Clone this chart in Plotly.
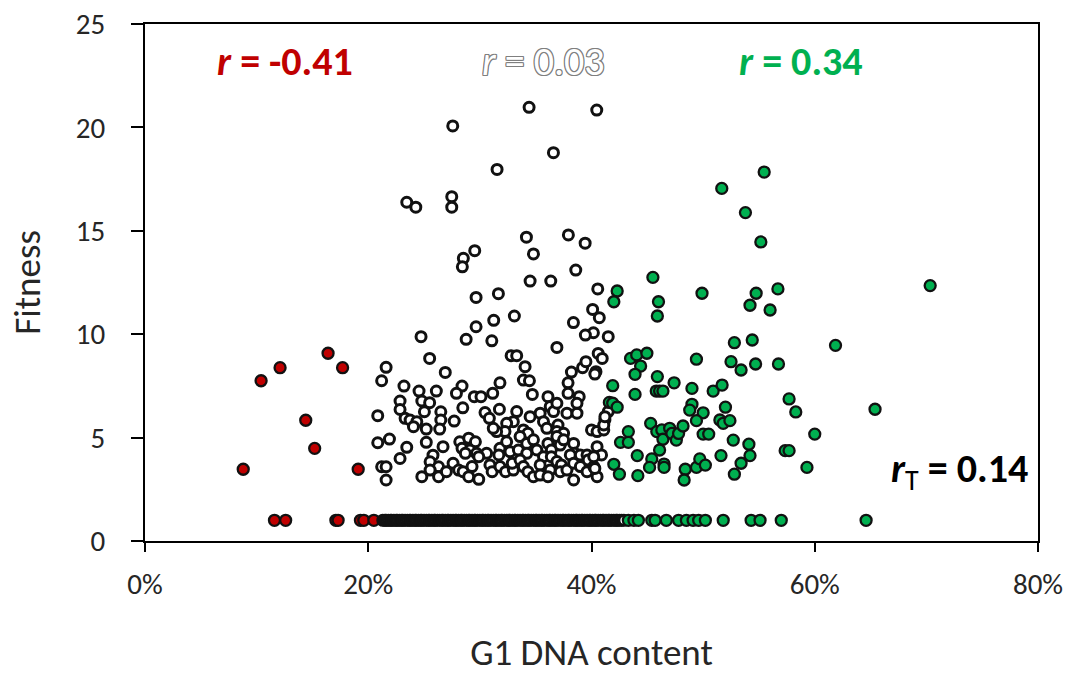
import plotly.graph_objects as go

# G1 DNA content (%) and fitness for the low-G1 group (red)
red_g1 = [8.8, 10.4, 12.1, 14.4, 15.2, 16.4, 17.7, 19.1,
          11.6, 12.6, 17.1, 17.3, 19.3, 19.6, 20.5]
red_fit = [3.47, 7.75, 8.38, 5.84, 4.48, 9.08, 8.38, 3.47,
           1, 1, 1, 1, 1, 1, 1]

# Mid-G1 group (open circles), fitness above baseline
mid_g1 = [
    34.41, 40.47, 27.57, 36.59, 31.54, 23.45, 24.26, 27.48, 27.48, 34.17,
    37.93, 39.43, 34.80, 29.54, 28.52, 28.43, 38.59, 34.50, 36.35, 40.56,
    29.66, 31.66, 33.09, 31.24, 29.66, 38.38, 40.10, 40.70, 41.50,
    24.73, 28.77, 31.07, 25.50, 32.80, 33.30, 36.90, 40.60, 40.96, 26.90,
    34.05, 33.90, 34.44, 39.20, 39.50, 40.40, 40.30, 38.20, 37.90, 31.80,
    23.20, 24.55, 26.10, 28.40, 27.90, 29.50, 30.10, 31.15, 34.70, 36.10,
    37.90, 38.90, 40.17, 39.45,
    21.60, 21.20, 20.85, 20.85, 21.20,
    22.85, 22.85, 24.80, 25.50, 23.30, 23.75, 24.35, 24.05, 25.03, 26.50,
    26.50, 26.40, 27.70, 28.47, 25.20, 21.90, 23.45, 22.85, 21.60, 21.60,
    25.20, 26.70, 25.80, 25.54, 26.30, 25.54, 26.30, 24.80,
    30.46, 30.85, 31.75, 33.30, 33.00, 32.40, 32.25, 34.50, 35.40, 35.70,
    36.30, 36.60, 36.90, 37.80, 38.70, 38.70, 40.00, 40.50, 41.10, 41.20,
    41.50, 41.10, 31.50, 31.20, 33.90, 34.30, 33.60, 36.00, 37.00, 36.90,
    37.50, 28.20, 29.00, 29.60, 28.40, 29.10, 28.70, 29.70, 30.60, 29.90,
    31.80, 32.40, 32.70, 31.70, 33.45, 34.20, 34.80, 35.10, 34.20, 36.10,
    36.40, 36.90, 37.20, 37.50, 38.40, 38.50, 38.10, 39.00, 39.60, 39.70,
    40.50, 40.90, 35.70, 36.40, 27.60, 27.00, 28.10, 28.50, 29.00, 29.90,
    29.30, 30.90, 31.10, 31.80, 32.30, 33.00, 32.90, 33.60, 33.90, 34.30,
    34.80, 35.40, 35.40, 36.30, 36.10, 36.90, 37.30, 37.20, 37.80, 38.40,
    38.40, 39.00, 39.60, 40.20, 40.50,
    41.20, 40.20, 40.30,
]
mid_fit = [
    20.97, 20.84, 20.07, 18.78, 17.97, 16.38, 16.14, 16.65, 16.14, 14.69,
    14.80, 14.40, 13.88, 14.04, 13.67, 13.26, 13.10, 12.57, 12.57, 12.19,
    11.78, 11.96, 10.88, 10.67, 10.36, 10.56, 11.20, 10.80, 9.88,
    9.88, 9.75, 9.68, 8.83, 8.96, 8.96, 9.36, 9.07, 8.83, 8.15,
    8.43, 7.78, 7.75, 8.38, 8.67, 8.19, 8.07, 8.17, 7.65, 7.65,
    7.49, 7.25, 7.25, 7.49, 7.14, 6.98, 6.98, 7.14, 7.09, 6.98,
    7.14, 6.98, 10.07, 9.96,
    8.40, 7.75, 6.06, 4.75, 3.59,
    6.77, 6.36, 6.77, 6.69, 5.93, 5.85, 5.77, 5.53, 6.25, 6.25,
    5.85, 5.41, 5.80, 6.44, 5.41, 4.93, 4.53, 3.99, 3.59, 2.95,
    4.77, 4.56, 4.15, 3.83, 3.59, 3.43, 3.11, 3.11,
    6.21, 5.93, 6.37, 6.26, 5.77, 5.69, 5.29, 6.01, 6.18, 5.77,
    6.50, 6.26, 6.66, 6.18, 6.18, 6.66, 5.37, 5.29, 5.37, 5.85,
    6.26, 5.61, 5.29, 5.45, 5.37, 5.21, 5.05, 5.45, 5.61, 5.29,
    5.21, 4.80, 4.97, 4.80, 4.48, 4.40, 4.24, 4.24, 4.24, 4.08,
    4.48, 4.80, 4.32, 4.16, 4.40, 4.72, 4.89, 4.40, 4.24, 4.72,
    4.40, 5.05, 4.64, 4.89, 4.72, 4.24, 4.16, 4.16, 4.16, 3.92,
    4.56, 4.16, 4.08, 4.08, 3.76, 3.35, 3.43, 3.35, 3.11, 2.98,
    3.60, 3.68, 3.35, 3.60, 3.35, 3.43, 3.76, 3.92, 3.60, 3.35,
    3.11, 3.68, 3.19, 3.43, 3.11, 3.84, 3.68, 3.35, 3.43, 2.95,
    3.76, 3.60, 3.35, 3.60, 3.11,
    6.01, 4.08, 3.51,
]

# Mid-G1 group at baseline fitness (fitness = 1)
mid_g1_base = [
    21.3, 21.5, 21.6, 21.8, 22.0, 22.1, 22.3, 22.5, 22.6, 22.8, 23.0, 23.1,
    23.3, 23.5, 23.7, 23.8, 24.0, 24.2, 24.3, 24.5, 24.7, 24.8, 25.0, 25.2,
    25.4, 25.5, 25.7, 25.9, 26.0, 26.2, 26.4, 26.6, 26.7, 26.9, 27.1, 27.2,
    27.4, 27.6, 27.8, 27.9, 28.1, 28.3, 28.4, 28.6, 28.8, 29.0, 29.1, 29.3,
    29.5, 29.6, 29.8, 30.0, 30.2, 30.3, 30.5, 30.7, 30.8, 31.0, 31.2, 31.4,
    31.5, 31.7, 31.9, 32.0, 32.2, 32.4, 32.6, 32.7, 32.9, 33.1, 33.2, 33.4,
    33.6, 33.8, 33.9, 34.1, 34.3, 34.4, 34.6, 34.8, 35.0, 35.1, 35.3, 35.5,
    35.6, 35.8, 36.0, 36.2, 36.3, 36.5, 36.7, 36.8, 37.0, 37.2, 37.4, 37.5,
    37.7, 37.9, 38.0, 38.2, 38.4, 38.6, 38.7, 38.9, 39.1, 39.2, 39.4, 39.6,
    39.8, 39.9, 40.1, 40.3, 40.4, 40.6, 40.8, 41.0, 41.1, 41.3, 41.5, 41.6,
    41.8, 42.0, 42.2, 42.3, 42.5, 42.7, 42.9,
]
mid_fit_base = [1] * len(mid_g1_base)

# High-G1 group (green)
high_g1 = [
    55.47, 51.67, 53.79, 55.17, 45.50, 42.30, 42.00, 46.00, 45.90, 49.90,
    54.75, 54.20, 56.70, 56.00, 61.86, 52.80, 54.40, 49.40, 52.50, 53.40,
    54.70, 56.75, 43.50, 44.05, 44.96, 44.40, 43.90, 45.90, 45.80, 46.10,
    46.40, 47.40, 41.90, 43.90, 49.00, 50.90, 51.70, 41.60, 41.90, 42.30,
    49.00, 48.80, 50.00, 49.40, 52.00, 51.50, 51.80, 52.40, 57.70, 58.30,
    60.00, 45.30, 43.30, 42.60, 43.30, 45.85, 46.30, 46.40, 47.00, 47.20,
    47.60, 47.80, 48.20, 50.00, 50.50, 52.70, 54.10, 54.20, 57.35, 57.70,
    59.30, 44.10, 45.40, 46.10, 42.00, 42.50, 44.15, 45.20, 46.50, 46.50,
    48.40, 48.30, 49.40, 49.70, 50.20, 51.60, 52.80, 53.40, 70.34, 65.40,
    43.3, 43.8, 44.2, 45.4, 45.7, 46.7, 47.8, 48.5, 49.1, 49.6, 50.2,
    51.8, 54.3, 55.1, 57.0, 64.6,
]
high_fit = [
    17.84, 17.05, 15.88, 14.46, 12.75, 12.09, 11.57, 11.57, 10.88, 11.98,
    11.98, 11.40, 12.19, 11.17, 9.46, 9.59, 9.72, 8.79, 8.67, 8.27,
    8.56, 8.56, 8.83, 9.00, 9.08, 8.46, 8.06, 7.95, 7.25, 7.25,
    7.25, 7.65, 7.51, 7.09, 7.38, 7.25, 7.54, 6.70, 6.66, 6.47,
    6.61, 6.33, 6.20, 5.82, 6.47, 5.85, 5.69, 5.82, 6.87, 6.24,
    5.17, 5.69, 5.29, 4.77, 4.77, 5.29, 5.37, 4.92, 5.45, 5.20,
    4.88, 5.20, 5.56, 5.17, 5.17, 4.88, 4.68, 4.13, 4.37, 4.37,
    3.56, 4.13, 3.97, 4.40, 3.71, 3.23, 3.16, 3.56, 3.72, 3.56,
    3.47, 2.95, 3.56, 3.97, 3.67, 4.13, 3.23, 3.76, 12.35, 6.37,
    1, 1, 1, 1, 1, 1, 1, 1, 1, 1, 1,
    1, 1, 1, 1, 1,
]

x_ticks = [0, 20, 40, 60, 80]
x_tick_text = ["0%", "20%", "40%", "60%", "80%"]
y_ticks = [0, 5, 10, 15, 20, 25]

RED = "#c00000"
GREEN = "#00b050"
GREY = "#7f7f7f"
FONT = "Carlito, Calibri, Lato, sans-serif"

fig = go.Figure()

fig.add_trace(go.Scatter(
    x=red_g1, y=red_fit, mode="markers",
    marker=dict(size=11, color=RED, line=dict(color="#111111", width=2.3)),
))
fig.add_trace(go.Scatter(
    x=mid_g1 + mid_g1_base, y=mid_fit + mid_fit_base, mode="markers",
    marker=dict(size=10, color="white", line=dict(color="#111111", width=3)),
))
fig.add_trace(go.Scatter(
    x=high_g1, y=high_fit, mode="markers",
    marker=dict(size=11, color=GREEN, line=dict(color="#111111", width=2.3)),
))

outline = ", ".join(f"{dx}px {dy}px 0 {GREY}" for dx, dy in
                    [(-1, -1), (1, -1), (-1, 1), (1, 1), (0, 1), (0, -1), (1, 0), (-1, 0)])

fig.add_annotation(x=12.5, y=23.2, xref="x", yref="y", showarrow=False,
                   text="<i>r</i> = -0.41",
                   font=dict(family=FONT, size=40, color=RED, weight="bold"))
fig.add_annotation(x=35.7, y=23.2, xref="x", yref="y", showarrow=False,
                   text="<i>r</i> = 0.03",
                   font=dict(family=FONT, size=40, color="white", shadow=outline))
fig.add_annotation(x=58.8, y=23.2, xref="x", yref="y", showarrow=False,
                   text="<i>r</i> = 0.34",
                   font=dict(family=FONT, size=40, color=GREEN, weight="bold"))
fig.add_annotation(x=79.3, y=3.4, xref="x", yref="y", showarrow=False,
                   xanchor="right",
                   text="<i>r</i><sub><span style='font-weight:normal'>T</span></sub> = 0.14",
                   font=dict(family=FONT, size=40, color="black", weight="bold"))

axis_common = dict(
    showline=True, linecolor="black", linewidth=2, mirror=True,
    showgrid=False, zeroline=False, ticks="outside", tickwidth=2,
    tickcolor="black", automargin=False,
    tickfont=dict(family=FONT, size=29, color="#262626"),
)

fig.update_layout(
    width=1077, height=675,
    margin=dict(l=145, r=39, t=24, b=134),
    paper_bgcolor="white", plot_bgcolor="white",
    showlegend=False,
    xaxis=dict(range=[0, 80], tickvals=x_ticks, ticktext=x_tick_text, ticklen=9,
               ticklabelstandoff=7,
               title=dict(text="G1 DNA content", standoff=58,
                          font=dict(family=FONT, size=37, color="#262626")),
               **axis_common),
    yaxis=dict(range=[0, 25], tickvals=y_ticks, ticklen=12,
               ticklabelstandoff=20,
               title=dict(text="Fitness", standoff=24,
                          font=dict(family=FONT, size=37, color="#262626")),
               **axis_common),
)

fig.write_html("out.html")
